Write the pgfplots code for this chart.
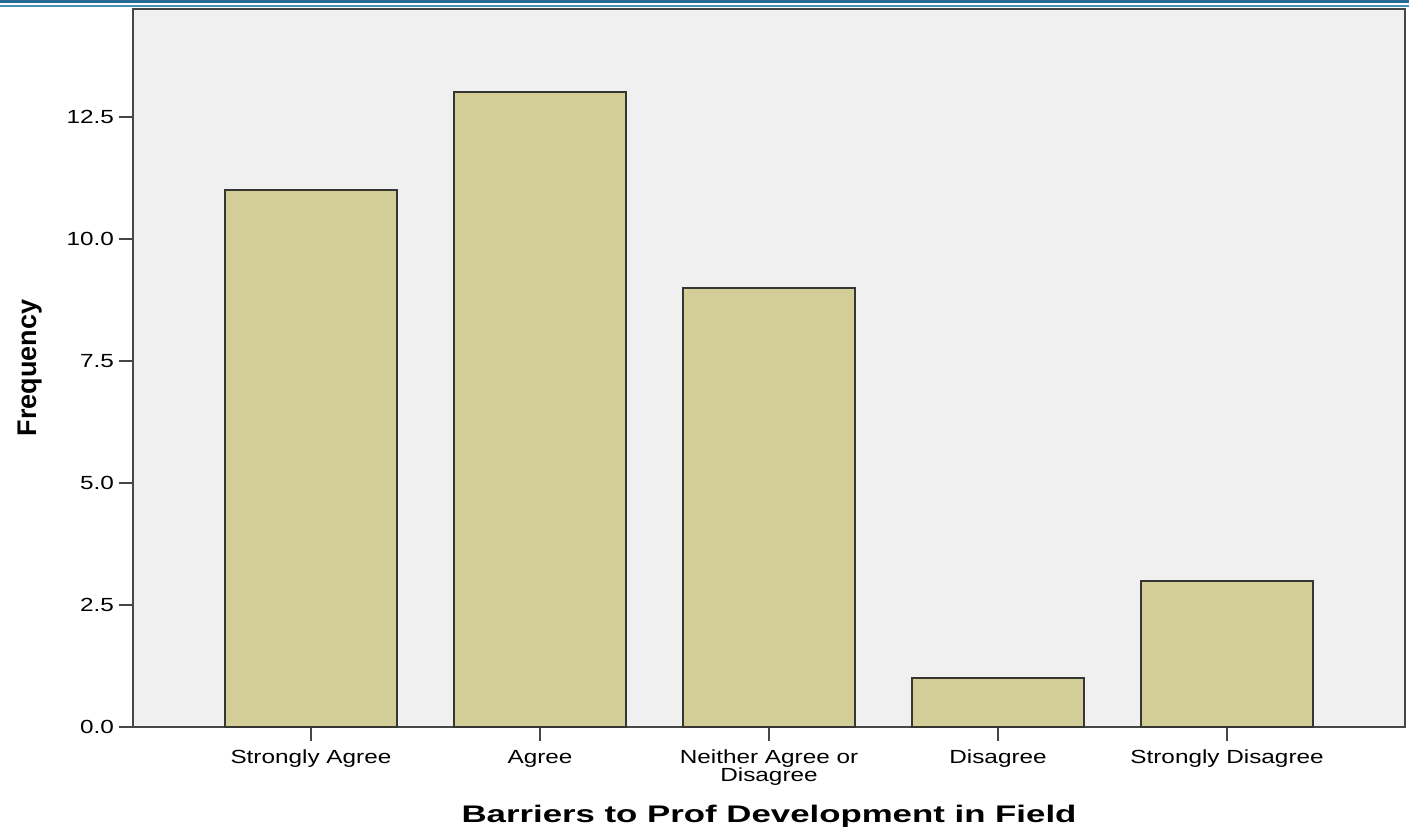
\documentclass[border=0pt]{standalone}
\usepackage{pgfplots}
\pgfplotsset{compat=1.18}
\usepackage{fontspec}
\setmainfont[FakeStretch=1.28]{Liberation Sans}
\newfontfamily\plainfont{Liberation Sans}
\newfontfamily\titlefont[FakeStretch=1.45]{Liberation Sans}
\definecolor{bgc}{RGB}{240,240,240}
\definecolor{barc}{RGB}{211,206,151}
\definecolor{edgec}{RGB}{55,55,50}
\definecolor{axc}{RGB}{70,70,70}
\definecolor{blue1}{RGB}{40,105,150}
\definecolor{blue2}{RGB}{70,145,190}
\begin{document}
\begin{tikzpicture}[x=1pt,y=1pt]
\useasboundingbox (0,0) rectangle (704.5,415);
\draw[blue1,line width=1.4pt] (0,414.2) -- (704.5,414.2);
\draw[blue2,line width=1pt] (0,412) -- (704.5,412);
\begin{axis}[
  at={(66.5pt,51.5pt)}, anchor=south west,
  scale only axis, width=636pt, height=359pt,
  xmin=-0.777, xmax=4.777, ymin=0, ymax=14.71,
  axis background/.style={fill=bgc},
  axis line style={axc, line width=1.2pt},
  ybar, bar width=0.75, 
  xtick={0,1,2,3,4},
  xticklabels={Strongly Agree, Agree, {Neither Agree or\\[-1.2pt]Disagree}, Disagree, Strongly Disagree},
  xticklabel style={align=center, font=\fontsize{9.5pt}{8.5pt}\selectfont, yshift=-1pt},
  ytick={0,2.5,5,7.5,10,12.5},
  yticklabel style={font=\fontsize{9.5pt}{10pt}\selectfont, xshift=1pt},
  /pgf/number format/.cd, fixed, fixed zerofill, precision=1, assume math mode=true,
  /pgfplots/.cd,
  tick align=outside,
  major tick length=7pt,
  tick style={axc, line width=1pt},
  xtick pos=bottom, ytick pos=left,
  xlabel={\titlefont\fontsize{12pt}{14pt}\selectfont\bfseries Barriers to Prof Development in Field},
  ylabel={\plainfont\fontsize{13.5pt}{14pt}\selectfont\bfseries Frequency},
  xlabel style={at={(axis description cs:0.5,0)}, anchor=base, yshift=-48pt},
  ylabel style={yshift=5.5pt},
  clip=false,
]
\addplot[fill=barc, draw=edgec, line width=1pt] coordinates {(0,11) (1,13) (2,9) (3,1) (4,3)};
\end{axis}
\end{tikzpicture}
\end{document}
